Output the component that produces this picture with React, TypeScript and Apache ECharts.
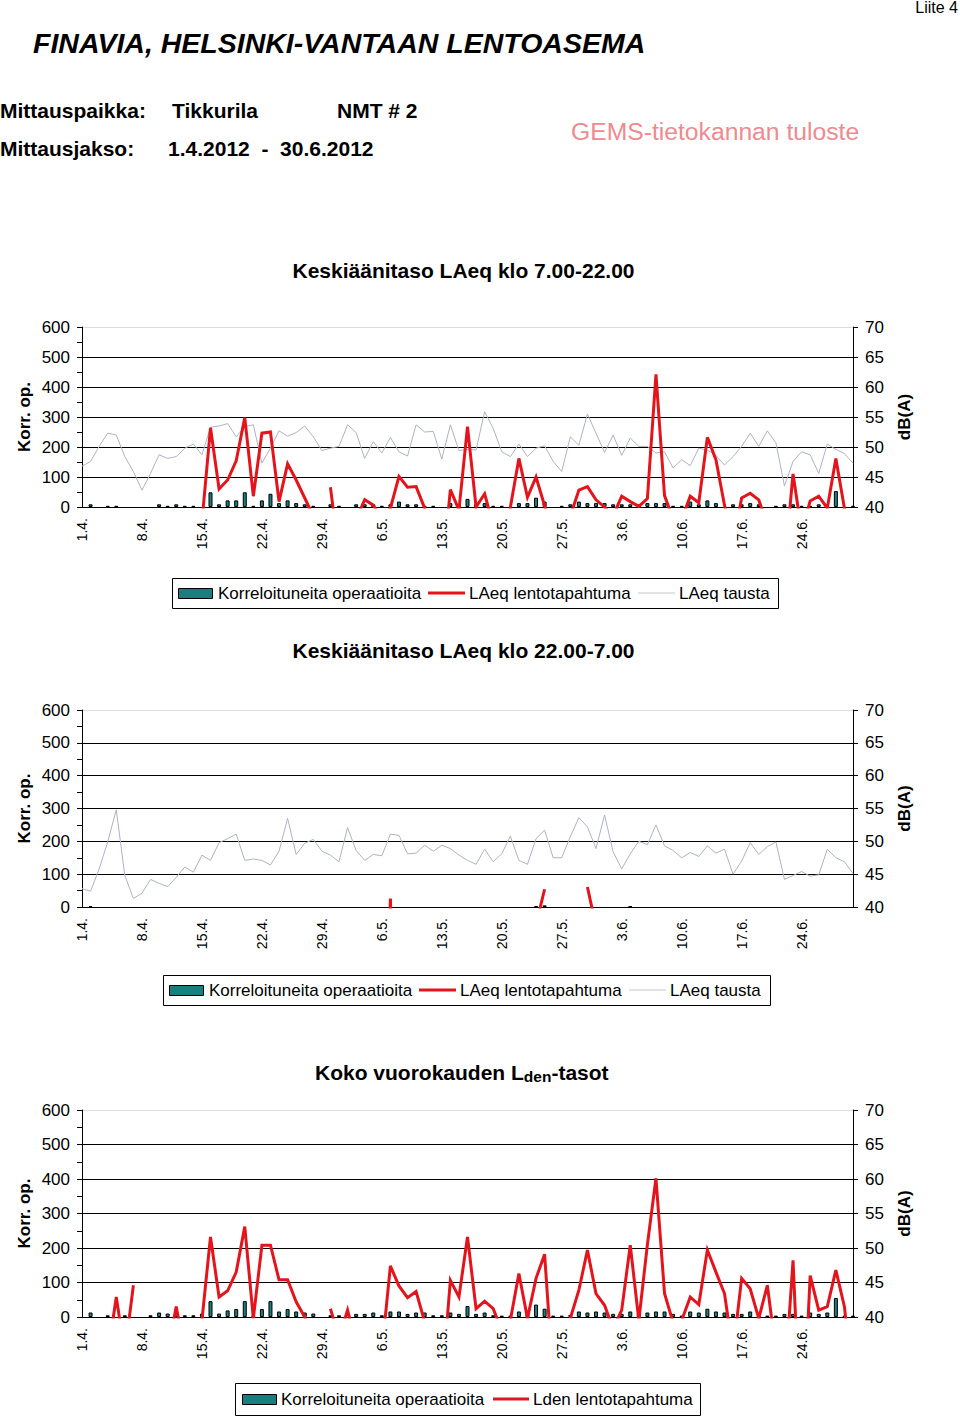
import React, { useEffect, useRef } from "react";
import * as echarts from "echarts";

const FF = '"Liberation Sans", Arial, Helvetica, sans-serif';

// categories 1.4. ... 30.6.
const MONTHS: [number, number][] = [[4, 30], [5, 31], [6, 30]];
const CATS: string[] = [];
MONTHS.forEach(([m, n]) => { for (let d = 1; d <= n; d++) CATS.push(d + "." + m + "."); });

const LEFT_TICKS = [0, 600, 100];
const RIGHT_TICKS = [40, 70, 5];

// Chart 1: day 7-22
const dayOps = [0,9,0,4,4,0,0,0,0,9, 4,9,4,4,0,49,9,22,22,49, 4,22,44,13,22,13,9,4,0,9, 4,0,9,9,9,4,9,18,9,9, 4,4,0,13,9,27,9,13,4,4, 0,13,13,31,18,0,4,9,18,13, 13,13,9,9,9,9,13,13,13,4, 4,18,9,22,13,0,9,9,13,9, 0,4,9,9,4,4,9,0,53,0, 4];
const dayEvent = [null,null,null,null,null,null,null,null,null,null, null,null,null,null,37.5,53.2,43.0,44.5,47.7,54.9, 41.8,52.3,52.5,40.9,47.2,44.5,41.5,38.5,null,43.3, 32,null,38,41.2,40.3,38,39.8,45.1,43.3,43.4, 39.8,30,28,42.9,39.5,53.4,40,42.2,37,30, 39.9,48.1,41.6,45.0,40.2,35,30,38.5,42.8,43.4, 41.2,40,38.5,41.8,40.9,40.1,41.4,62.1,41.9,38, 38,41.8,40.7,51.6,47.9,40.3,34,41.5,42.3,41.2, 37,30,30,45.5,36,41.0,41.8,39.8,48.1,39.8, 30];
const dayBg = [46.8,47.6,50.1,52.3,52.0,48.4,45.9,42.8,45.6,48.7, 48.1,48.4,49.8,50.5,48.7,53.3,53.5,53.9,51.7,53.4, 53.7,47.3,49.8,52.7,51.8,52.4,53.5,51.7,49.4,49.8, 50.1,53.7,52.4,48.1,50.9,49.0,51.6,49.2,48.5,53.7, 52.5,52.6,48.0,53.7,49.4,49.6,49.5,55.9,53.1,49.2, 48.4,50.5,48.4,49.8,50.2,47.6,45.9,51.7,50.3,55.5, 52.3,49.1,52.0,48.6,51.5,50.1,50.1,49.0,49.2,46.5, 47.9,46.9,49.8,49.5,48.6,47.0,48.4,50.1,52.3,50.1, 52.7,50.7,43.5,47.6,49.2,48.7,45.6,50.5,49.6,48.9, 47.3];

// Chart 2: night 22-7
const nightOps = [0,3,0,0,0,0,0,0,0,0, 0,0,0,0,0,0,0,0,0,0, 0,0,0,0,0,0,0,0,0,0, 0,0,0,0,0,0,0,0,0,0, 0,0,0,0,0,0,0,0,0,0, 0,0,0,3,5,0,0,0,0,0, 0,0,0,0,2,0,0,0,0,0, 0,0,0,0,0,0,0,0,0,0, 0,0,0,0,0,0,0,0,0,0, 0];
const nightEvent = [null,null,null,null,null,null,null,null,null,null, null,null,null,null,null,null,null,null,null,null, null,null,null,null,null,null,null,null,null,null, null,null,null,null,null,0,41.3,0,null,null, null,null,null,null,null,null,null,null,null,null, null,null,null,37.3,42.7,null,null,null,null,43.05, 37,null,null,null,null,null,null,null,null,null, null,null,null,null,null,null,null,null,null,null, null,null,null,null,null,null,null,null,null,null, null];
const nightBg = [42.8,42.4,45.8,49.9,54.8,44.8,41.3,42.1,44.2,43.6, 43.1,44.5,46.1,45.3,47.9,47.1,49.8,50.4,51.1,47.1, 47.3,47.1,46.4,48.5,53.5,48.0,49.7,50.3,48.5,47.9, 46.9,52.1,48.6,47.1,48.0,47.8,51.1,50.9,48.1,48.2, 49.4,48.5,49.4,48.9,47.9,47.1,46.5,48.8,46.9,48.1, 50.8,47.1,46.5,50.4,51.7,47.5,47.5,50.7,53.6,52.2, 48.9,54.0,48.4,45.8,48.1,50.0,49.5,52.5,49.3,48.6, 47.5,48.3,47.7,49.3,48.2,48.8,45.0,47.0,49.8,48.0, 49.2,49.9,44.2,44.8,45.4,44.7,44.9,48.8,47.5,46.9, 45.1];

// Chart 3: Lden
const ldenOps = [0,13,0,5,0,5,0,0,5,13, 10,13,5,5,10,46,10,19,23,46, 5,23,46,16,23,16,13,10,0,5, 5,0,9,9,13,5,16,16,9,13, 13,5,5,13,9,32,9,13,5,4, 4,16,9,36,24,4,4,6,16,13, 16,13,9,9,16,9,13,16,16,9, 4,16,13,24,16,13,9,9,16,4, 4,4,9,9,4,13,9,13,55,4, 4];
const ldenEvent = [null,null,null,34.4,42.9,34.8,44.6,null,null,null, 35,41.5,35,null,39.5,51.6,42.9,43.8,46.5,53.1, 39.8,50.4,50.4,45.4,45.4,42.2,40.0,36,null,41.2, 37,41.0,36,null,null,35,47.4,44.5,42.8,43.7, 39.3,null,30,45.3,42.9,51.6,41.2,42.3,41.2,38, 39.5,46.3,39.8,45.6,49.1,31,null,39.8,43.9,49.7, 43.4,41.7,38.3,41.0,50.4,39.5,50.5,60.1,43.4,39.2, 39.5,42.9,41.8,49.7,46.5,43.4,34.9,45.6,44.1,39.8, 44.6,35,30,48.2,20,46.0,41.0,41.5,46.8,41.5, 30];

const TEAL = "#17807e";
const RED = "#e4141c";
const GRAY = "#aeb2c4";

const GRIDS = [
  { top: 327, height: 180 },
  { top: 710, height: 197 },
  { top: 1110, height: 207 },
];

const nz = (a: number[]) => a.map((v) => (v === 0 ? null : v));

function buildOption() {
  const grid = GRIDS.map((g) => ({ left: 82, width: 771, top: g.top, height: g.height, outerBoundsMode: "none" }));
  const xAxis = GRIDS.map((_, k) => ({
    type: "category",
    gridIndex: k,
    data: CATS,
    boundaryGap: false,
    axisLine: { show: true, lineStyle: { color: "#000", width: 1 } },
    axisTick: { show: false },
    splitLine: { show: false },
    axisLabel: { interval: 6, rotate: 90, fontSize: 14, margin: 11, color: "#000", fontFamily: FF },
  }));
  const yAxis: any[] = [];
  GRIDS.forEach((_, k) => {
    yAxis.push({
      type: "value",
      gridIndex: k,
      position: "left",
      min: LEFT_TICKS[0],
      max: LEFT_TICKS[1],
      interval: LEFT_TICKS[2],
      axisLine: { show: true, lineStyle: { color: "#000", width: 1 } },
      axisTick: { show: true, length: 5, lineStyle: { color: "#000" } },
      minorTick: { show: true, splitNumber: 2, length: 5, lineStyle: { color: "#000" } },
      axisLabel: { fontSize: 17, margin: 12, color: "#000", fontFamily: FF },
      splitLine: {
        show: true,
        lineStyle: { color: ["#000", "#000", "#000", "#000", "#000", "#000", "#dcdcdc"], width: 1 },
      },
    });
    yAxis.push({
      type: "value",
      gridIndex: k,
      position: "right",
      min: RIGHT_TICKS[0],
      max: RIGHT_TICKS[1],
      interval: RIGHT_TICKS[2],
      axisLine: { show: true, lineStyle: { color: "#000", width: 1 } },
      axisTick: { show: true, length: 5, lineStyle: { color: "#000" } },
      axisLabel: { fontSize: 17, margin: 12, color: "#000", fontFamily: FF },
      splitLine: { show: false },
    });
  });

  const bar = (k: number, data: number[]) => ({
    type: "bar",
    name: "Korreloituneita operaatioita",
    xAxisIndex: k,
    yAxisIndex: k * 2,
    data: nz(data),
    barWidth: 4,
    itemStyle: { color: TEAL, borderColor: "#000", borderWidth: 1 },
    silent: true,
  });
  const line = (k: number, name: string, data: any[], color: string, width: number) => ({
    type: "line",
    name,
    xAxisIndex: k,
    yAxisIndex: k * 2 + 1,
    data,
    symbol: "none",
    connectNulls: false,
    clip: true,
    lineStyle: { color, width, join: "miter" },
    silent: true,
  });

  const series = [
    bar(0, dayOps),
    line(0, "LAeq tausta", dayBg, GRAY, 1),
    line(0, "LAeq lentotapahtuma", dayEvent, RED, 3),
    bar(1, nightOps),
    line(1, "LAeq tausta", nightBg, GRAY, 1),
    line(1, "LAeq lentotapahtuma", nightEvent, RED, 3),
    bar(2, ldenOps),
    line(2, "Lden lentotapahtuma", ldenEvent, RED, 3),
  ];

  const txt = (x: number, y: number, text: string, extra: any = {}) => ({
    type: "text",
    x,
    y,
    style: { text, fontFamily: FF, fontSize: 17, fill: "#000", verticalAlign: "middle", align: "left", ...extra },
  });

  const legend = (bx: number, by: number, bw: number, bh: number, items: any[]) => {
    const cy = by + bh / 2;
    const els: any[] = [
      { type: "rect", shape: { x: bx + 0.5, y: by + 0.5, width: bw, height: bh }, style: { fill: "#fff", stroke: "#000", lineWidth: 1 } },
    ];
    items.forEach((it) => {
      if (it.kind === "bar") {
        els.push({ type: "rect", shape: { x: it.x1 + 0.5, y: cy - 5 + 0.5, width: it.x2 - it.x1, height: 10 }, style: { fill: TEAL, stroke: "#000", lineWidth: 1 } });
      } else {
        els.push({ type: "line", shape: { x1: it.x1, y1: cy, x2: it.x2, y2: cy }, style: { stroke: it.color, lineWidth: it.w } });
      }
      els.push(txt(it.tx, cy, it.text));
    });
    return els;
  };

  const axisNames: any[] = [];
  GRIDS.forEach((g) => {
    const cy = g.top + g.height / 2;
    axisNames.push({ type: "text", x: 24, y: cy, rotation: Math.PI / 2, style: { text: "Korr. op.", fontFamily: FF, fontSize: 17, fontWeight: "bold", fill: "#000", align: "center", verticalAlign: "middle" } });
    axisNames.push({ type: "text", x: 904, y: cy, rotation: Math.PI / 2, style: { text: "dB(A)", fontFamily: FF, fontSize: 17, fontWeight: "bold", fill: "#000", align: "center", verticalAlign: "middle" } });
  });

  const graphic = [
    txt(958, 7, "Liite 4", { align: "right", fontSize: 16 }),
    txt(33, 43, "FINAVIA, HELSINKI-VANTAAN LENTOASEMA", { fontSize: 28.5, fontWeight: "bold", fontStyle: "italic" }),
    txt(0, 110, "Mittauspaikka:", { fontSize: 21, fontWeight: "bold" }),
    txt(172, 110, "Tikkurila", { fontSize: 21, fontWeight: "bold" }),
    txt(337, 110, "NMT # 2", { fontSize: 21, fontWeight: "bold" }),
    txt(0, 148, "Mittausjakso:", { fontSize: 21, fontWeight: "bold" }),
    txt(168, 148, "1.4.2012  -  30.6.2012", { fontSize: 21, fontWeight: "bold" }),
    txt(571, 131, "GEMS-tietokannan tuloste", { fontSize: 24.7, fill: "#ee8a90" }),
    txt(463.5, 270, "Keskiäänitaso LAeq klo 7.00-22.00", { fontSize: 21, fontWeight: "bold", align: "center" }),
    txt(463.5, 650, "Keskiäänitaso LAeq klo 22.00-7.00", { fontSize: 21, fontWeight: "bold", align: "center" }),
    {
      type: "text",
      x: 315,
      y: 1072,
      style: {
        text: "{a|Koko vuorokauden L}{b|den}{a|-tasot}",
        fontFamily: FF,
        verticalAlign: "middle",
        align: "left",
        rich: {
          a: { fontSize: 21, fontWeight: "bold", fontFamily: FF, fill: "#000", lineHeight: 24, verticalAlign: "middle" },
          b: { fontSize: 15.5, fontWeight: "bold", fontFamily: FF, fill: "#000", lineHeight: 15, verticalAlign: "bottom" },
        },
      },
    },
    ...axisNames,
    ...legend(172, 578, 606, 30, [
      { kind: "bar", x1: 178, x2: 212, tx: 218, text: "Korreloituneita operaatioita" },
      { kind: "line", x1: 428, x2: 465, color: RED, w: 3, tx: 469, text: "LAeq lentotapahtuma" },
      { kind: "line", x1: 638, x2: 675, color: "#c4c7d4", w: 1, tx: 679, text: "LAeq tausta" },
    ]),
    ...legend(163, 975, 607, 30, [
      { kind: "bar", x1: 169, x2: 203, tx: 209, text: "Korreloituneita operaatioita" },
      { kind: "line", x1: 419, x2: 456, color: RED, w: 3, tx: 460, text: "LAeq lentotapahtuma" },
      { kind: "line", x1: 629, x2: 666, color: "#c4c7d4", w: 1, tx: 670, text: "LAeq tausta" },
    ]),
    ...legend(235, 1383, 465, 32, [
      { kind: "bar", x1: 242, x2: 276, tx: 281, text: "Korreloituneita operaatioita" },
      { kind: "line", x1: 493, x2: 529, color: RED, w: 3, tx: 533, text: "Lden lentotapahtuma" },
    ]),
  ];

  return {
    animation: false,
    backgroundColor: "#fff",
    textStyle: { fontFamily: FF },
    grid,
    xAxis,
    yAxis,
    series,
    graphic,
  };
}

export default function App() {
  const ref = useRef<HTMLDivElement>(null);
  useEffect(() => {
    if (!ref.current) return;
    const chart = echarts.init(ref.current, null, { renderer: "svg" });
    chart.setOption(buildOption() as any);
    return () => chart.dispose();
  }, []);
  return (
    <div
      ref={ref}
      style={{ position: "absolute", left: 0, top: 0, width: 960, height: 1418, background: "#fff" }}
    />
  );
}
